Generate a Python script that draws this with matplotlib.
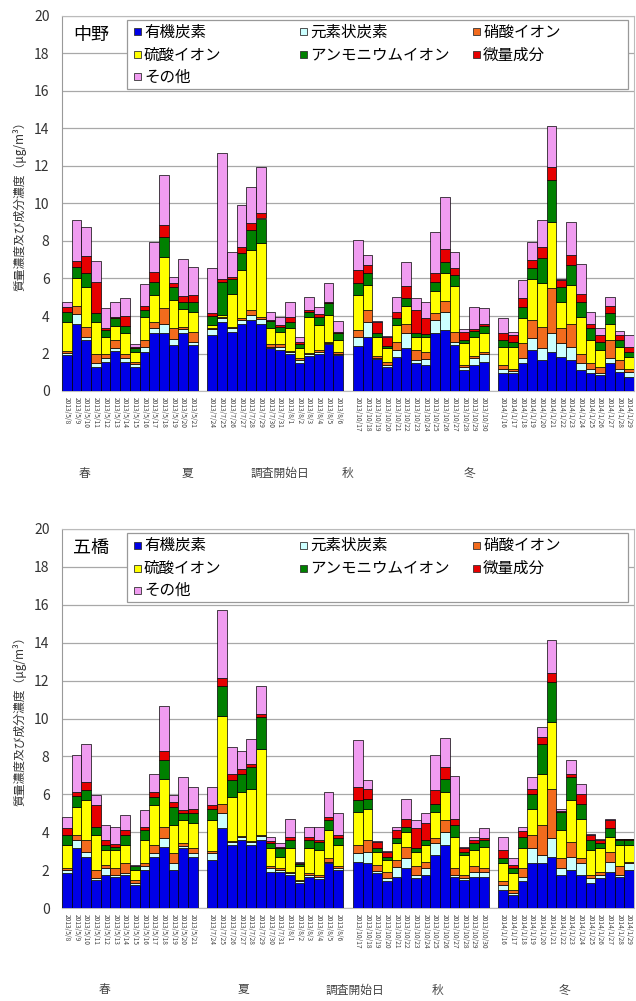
import numpy as np
import matplotlib
matplotlib.use("Agg")
import matplotlib.pyplot as plt
from matplotlib.patches import Rectangle

plt.rcParams['font.family'] = ['Noto Sans CJK JP', 'DejaVu Sans']

components = ["有機炭素", "元素状炭素", "硝酸イオン", "硫酸イオン",
              "アンモニウムイオン", "微量成分", "その他"]
colors = ["#0000E6", "#CCFFFF", "#F26B1D", "#FFFF00", "#008000", "#E60000", "#F09CF0"]
seasons = ["春", "夏", "秋", "冬"]

# survey start dates (14 days per season)
dates = (["2013/5/%d" % d for d in range(8, 22)] +
         ["2013/7/%d" % d for d in range(24, 32)] + ["2013/8/%d" % d for d in range(1, 7)] +
         ["2013/10/%d" % d for d in range(17, 31)] +
         ["2014/1/%d" % d for d in range(16, 30)])

# ---- 中野 ----
nakano_oc = [1.92, 3.6, 2.72, 1.3, 1.56, 2.15, 1.56, 1.3, 2.1, 3.08, 3.08, 2.45, 3.08, 2.45,
             3.0, 3.7, 3.16, 3.6, 3.79, 3.6, 2.28, 2.19, 1.97, 1.48, 1.87, 1.95, 2.5, 1.92,
             2.4, 2.9, 1.69, 1.3, 1.83, 2.28, 1.51, 1.39, 3.08, 3.25, 2.45, 1.12, 1.39, 1.56,
             0.98, 0.94, 1.48, 2.19, 1.65, 2.1, 1.83, 1.65, 1.12, 0.94, 0.85, 1.48, 1.03, 0.76]
nakano_ec = [0.12, 0.5, 0.18, 0.18, 0.18, 0.13, 0.18, 0.14, 0.26, 0.26, 0.52, 0.31, 0.22, 0.18,
             0.3, 0.2, 0.18, 0.19, 0.26, 0.22, 0.08, 0.17, 0.13, 0.17, 0.1, 0.15, 0.07, 0.08,
             0.5, 0.8, 0.09, 0.09, 0.36, 0.8, 0.14, 0.3, 0.71, 0.98, 0.18, 0.18, 0.35, 0.41,
             0.22, 0.14, 0.26, 0.62, 0.63, 0.98, 0.71, 0.71, 0.36, 0.26, 0.13, 0.26, 0.17, 0.27]
nakano_no3 = [0.11, 0.45, 0.53, 0.49, 0.23, 0.44, 0.26, 0.12, 0.36, 0.36, 0.81, 0.58, 0.13, 0.53,
              0.05, 0.05, 0.06, 0.09, 0.27, 0.11, 0.14, 0.14, 0.05, 0.09, 0.05, 0.1, 0.06, 0.1,
              0.35, 0.62, 0.09, 0.17, 0.44, 0.52, 0.54, 0.41, 0.35, 0.59, 0.53, 0.09, 0.13, 0.13,
              0.19, 0.12, 0.8, 0.98, 1.15, 2.4, 0.8, 1.24, 0.49, 0.28, 0.32, 0.98, 0.45, 0.17]
nakano_so4 = [1.55, 1.5, 2.1, 1.73, 0.93, 0.75, 1.08, 0.54, 1.21, 1.42, 2.72, 1.51, 0.93, 1.07,
              0.15, 0.1, 1.8, 2.57, 3.2, 3.97, 0.84, 0.66, 1.19, 0.54, 1.94, 1.3, 1.42, 0.62,
              1.87, 1.33, 1.03, 0.72, 0.89, 0.93, 0.71, 0.76, 1.21, 1.46, 2.44, 1.15, 1.03, 0.98,
              0.97, 1.16, 1.34, 2.21, 2.31, 3.55, 1.42, 2.05, 1.99, 1.24, 0.89, 0.88, 0.71, 0.63]
nakano_nh4 = [0.53, 0.58, 0.75, 0.44, 0.35, 0.41, 0.39, 0.18, 0.39, 0.71, 1.1, 0.68, 0.4, 0.53,
              0.5, 1.75, 0.8, 0.89, 1.06, 1.3, 0.41, 0.24, 0.36, 0.22, 0.27, 0.45, 0.63, 0.36,
              0.66, 0.66, 0.18, 0.12, 0.36, 0.41, 0.18, 0.18, 0.48, 0.62, 0.59, 0.18, 0.3, 0.39,
              0.36, 0.27, 0.62, 0.54, 1.34, 2.22, 0.8, 1.07, 0.8, 0.62, 0.44, 0.54, 0.36, 0.27]
nakano_trace = [0.23, 0.32, 0.92, 1.69, 0.13, 0.08, 0.53, 0.08, 0.21, 0.53, 0.62, 0.21, 0.31, 0.36,
                0.15, 0.15, 0.1, 0.36, 0.36, 0.28, 0.05, 0.12, 0.26, 0.13, 0.09, 0.15, 0.08, 0.08,
                0.67, 0.41, 0.62, 0.5, 0.35, 0.66, 1.24, 0.84, 0.45, 0.7, 0.35, 0.44, 0.1, 0.1,
                0.36, 0.36, 0.44, 0.45, 0.62, 0.7, 0.36, 0.53, 0.44, 0.23, 0.36, 0.39, 0.27, 0.26]
nakano_other = [0.3, 2.15, 1.56, 1.12, 1.06, 0.8, 0.94, 0.14, 1.17, 1.6, 2.67, 0.36, 1.95, 1.51,
                2.4, 6.75, 1.33, 2.2, 1.94, 2.47, 0.4, 0.41, 0.8, 0.27, 0.71, 0.4, 0.98, 0.59,
                1.6, 0.53, 0.05, 0.05, 0.8, 1.3, 0.62, 0.88, 2.22, 2.75, 0.89, 0.14, 1.2, 0.84,
                0.8, 0.17, 0.98, 0.97, 1.42, 2.18, 0.08, 1.78, 1.57, 0.66, 0.35, 0.5, 0.21, 0.63]

# ---- 五橋 ----
itsutsubashi_oc = [1.84, 3.15, 2.71, 1.49, 1.75, 1.66, 1.75, 1.22, 2.0, 2.71, 3.24, 2.0, 3.15, 2.71,
                   2.55, 4.2, 3.32, 3.59, 3.32, 3.59, 1.92, 1.92, 1.75, 1.31, 1.66, 1.55, 2.36, 2.0,
                   2.45, 2.36, 1.84, 1.4, 1.66, 2.1, 1.57, 1.75, 2.8, 3.32, 1.66, 1.49, 1.66, 1.66,
                   0.96, 0.7, 1.4, 2.4, 2.36, 2.71, 1.75, 2.0, 1.75, 1.31, 1.57, 1.92, 1.66, 2.0]
itsutsubashi_ec = [0.16, 0.45, 0.26, 0.09, 0.35, 0.09, 0.09, 0.09, 0.19, 0.21, 0.43, 0.36, 0.12, 0.18,
                   0.35, 0.79, 0.18, 0.14, 0.18, 0.21, 0.18, 0.09, 0.09, 0.09, 0.09, 0.1, 0.09, 0.09,
                   0.44, 0.61, 0.09, 0.17, 0.49, 0.52, 0.18, 0.35, 0.65, 0.7, 0.09, 0.09, 0.26, 0.26,
                   0.26, 0.09, 0.26, 0.75, 0.44, 0.96, 0.35, 0.71, 0.61, 0.26, 0.18, 0.53, 0.09, 0.36]
itsutsubashi_no3 = [0.09, 0.25, 0.62, 0.42, 0.17, 0.35, 0.52, 0.18, 0.17, 0.4, 0.62, 0.53, 0.14, 0.26,
                    0.1, 0.52, 0.05, 0.05, 0.05, 0.06, 0.09, 0.09, 0.06, 0.09, 0.09, 0.1, 0.17, 0.11,
                    0.43, 0.62, 0.34, 0.35, 0.39, 0.62, 0.44, 0.35, 0.22, 0.62, 0.35, 0.17, 0.27, 0.18,
                    0.18, 0.17, 0.44, 0.7, 1.57, 2.63, 0.52, 0.79, 0.26, 0.18, 0.15, 0.52, 0.44, 0.09]
itsutsubashi_so4 = [1.23, 1.5, 2.1, 1.85, 0.79, 0.96, 0.96, 0.51, 1.23, 2.1, 2.53, 1.48, 1.23, 1.31,
                    1.65, 4.64, 2.3, 2.34, 2.75, 4.54, 0.96, 0.61, 1.25, 0.7, 1.31, 1.3, 1.49, 1.12,
                    1.75, 1.66, 0.7, 0.62, 0.87, 0.78, 0.78, 0.87, 1.4, 1.48, 1.66, 1.05, 0.87, 1.14,
                    0.96, 0.88, 1.05, 1.4, 2.72, 3.5, 1.49, 2.19, 2.1, 1.31, 1.25, 0.79, 1.13, 0.87]
itsutsubashi_nh4 = [0.53, 0.55, 0.52, 0.44, 0.26, 0.18, 0.53, 0.19, 0.52, 0.44, 0.97, 0.97, 0.35, 0.53,
                    0.6, 1.57, 0.9, 0.97, 1.14, 1.66, 0.26, 0.44, 0.44, 0.14, 0.44, 0.45, 0.53, 0.35,
                    0.62, 0.52, 0.18, 0.14, 0.26, 0.27, 0.18, 0.27, 0.44, 0.7, 0.61, 0.17, 0.35, 0.35,
                    0.26, 0.26, 0.61, 0.79, 1.57, 2.1, 0.96, 1.22, 0.79, 0.53, 0.26, 0.44, 0.27, 0.27]
itsutsubashi_trace = [0.35, 0.2, 0.44, 1.14, 0.27, 0.16, 0.26, 0.04, 0.18, 0.26, 0.52, 0.26, 0.17, 0.21,
                      0.2, 0.44, 0.3, 0.26, 0.17, 0.18, 0.14, 0.09, 0.17, 0.03, 0.17, 0.1, 0.17, 0.18,
                      0.7, 0.53, 0.35, 0.29, 0.44, 0.43, 1.05, 0.87, 0.7, 0.62, 0.35, 0.18, 0.18, 0.11,
                      0.44, 0.17, 0.31, 0.26, 0.35, 0.52, 0.05, 0.18, 0.53, 0.26, 0.18, 0.44, 0.03, 0.03]
itsutsubashi_other = [0.61, 1.95, 2.01, 0.52, 0.78, 0.89, 0.79, 0.04, 0.87, 0.97, 2.36, 0.35, 1.75, 1.19,
                      0.95, 3.54, 1.45, 0.96, 1.31, 1.48, 0.21, 0.21, 0.96, 0.09, 0.53, 0.7, 1.31, 1.14,
                      2.48, 0.47, 0.05, 0.03, 0.18, 1.05, 0.44, 0.53, 1.84, 1.54, 2.24, 0.05, 0.17, 0.5,
                      0.7, 0.35, 0.22, 0.61, 0.53, 1.7, 0.08, 0.7, 0.52, 0.05, 0.05, 0.06, 0.03, 0.03]

stations = [
    ("中野", [nakano_oc, nakano_ec, nakano_no3, nakano_so4, nakano_nh4, nakano_trace, nakano_other]),
    ("五橋", [itsutsubashi_oc, itsutsubashi_ec, itsutsubashi_no3, itsutsubashi_so4,
              itsutsubashi_nh4, itsutsubashi_trace, itsutsubashi_other]),
]

# one empty slot between seasons
x = np.array([s * 15 + k for s in range(4) for k in range(14)])

W, H = 636, 1001
fig = plt.figure(figsize=(W / 100, H / 100), dpi=100)
# axes boxes in pixels: left, top, right, bottom
boxes = [(62, 16, 634, 391), (62, 529, 634, 908)]
season_x = [[85, 187, 348, 470], [105, 243, 438, 565]]
center_x = [280, 355]
label_y = [473, 990]

# legend layout (pixels relative to axes top-left), Excel-like fixed columns
leg_cols = [75, 241, 414]
leg_rows = [16, 39, 61]
leg_slots = [(0, 0), (0, 1), (0, 2), (1, 0), (1, 1), (1, 2), (2, 0)]

for i, (name, comps) in enumerate(stations):
    l, t, r, b = boxes[i]
    aw, ah = r - l, b - t
    ax = fig.add_axes([l / W, 1 - b / H, aw / W, ah / H])
    bottom = np.zeros(len(x))
    for vals, c in zip(comps, colors):
        ax.bar(x, vals, width=1.0, bottom=bottom, color=c, edgecolor="black",
               linewidth=0.5, zorder=3)
        bottom += np.array(vals)

    ax.set_xlim(-0.5, 58.5)
    ax.set_ylim(0, 20)
    ax.set_yticks(np.arange(0, 21, 2))
    ax.yaxis.grid(True, color="#A8A8A8", linewidth=0.9, zorder=0)
    ax.tick_params(axis="y", length=0, pad=9, labelsize=10, labelcolor="#333333")
    ax.set_xticks(x)
    ax.set_xticklabels(dates, rotation=270, fontsize=4.8, color="#444444")
    ax.tick_params(axis="x", length=0, pad=4)
    for sp in ax.spines.values():
        sp.set_color("#BBBBBB")
        sp.set_linewidth(0.8)
    ax.spines["left"].set_color("#999999")

    ax.set_ylabel("質量濃度及び成分濃度（μg/m³）", fontsize=8.5, color="#333333")
    ax.yaxis.set_label_coords(-0.062, 0.5)

    ax.text(11 / aw, 1 - 19 / ah, name, transform=ax.transAxes, fontsize=13,
            ha="left", va="center", color="black")

    # legend box
    ax.add_patch(Rectangle((65 / aw, 1 - 73 / ah), 501 / aw, 69 / ah,
                           transform=ax.transAxes, facecolor="white",
                           edgecolor="#999999", linewidth=0.9, zorder=5))
    for j, (row, col) in enumerate(leg_slots):
        cx, cy = leg_cols[col], leg_rows[row]
        ax.add_patch(Rectangle(((cx - 3.5) / aw, 1 - (cy + 3.5) / ah), 7 / aw, 7 / ah,
                               transform=ax.transAxes, facecolor=colors[j],
                               edgecolor="#333333", linewidth=0.6, zorder=6))
        ax.text((cx + 7) / aw, 1 - cy / ah, components[j], transform=ax.transAxes,
                fontsize=11.2, ha="left", va="center", color="black", zorder=7)

    for sx, s in zip(season_x[i], seasons):
        fig.text(sx / W, 1 - label_y[i] / H, s, fontsize=8.5, ha="center",
                 va="center", color="#444444")
    fig.text(center_x[i] / W, 1 - label_y[i] / H, "調査開始日", fontsize=8.5,
             ha="center", va="center", color="#444444")

fig.savefig("out.png", dpi=100)
